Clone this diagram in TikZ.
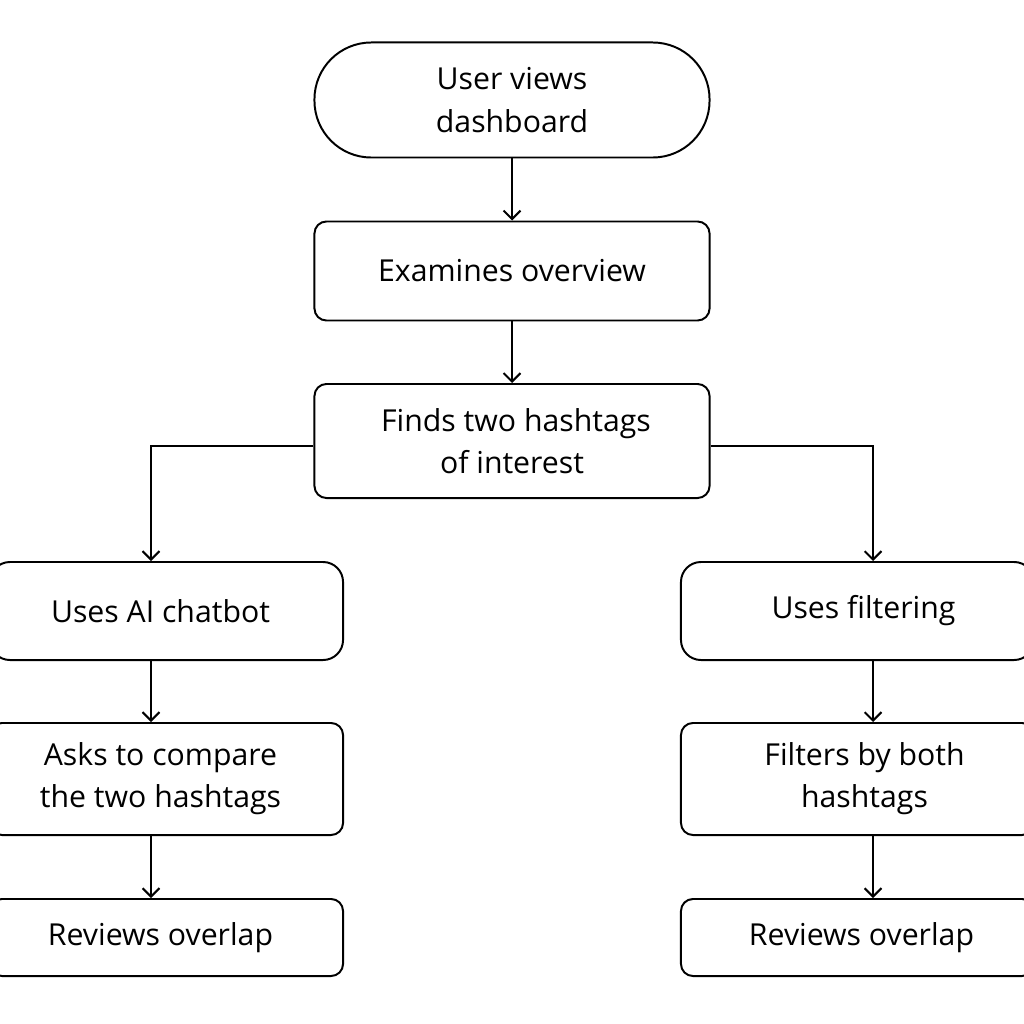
\documentclass[tikz,border=0pt]{standalone}
\usepackage{fontspec}
\setmainfont{Open Sans}
\usetikzlibrary{arrows.meta}
\begin{document}
\begin{tikzpicture}[x=0.025cm,y=-0.025cm,
 box/.style={draw,line width=1.4pt,align=center,font=\fontsize{21.5}{30}\selectfont,inner sep=0pt},
 arr/.style={line width=1.4pt,-{Straight Barb[length=6pt,width=12pt]}}]
\useasboundingbox (0,0) rectangle (1024,1024);
\node[box,rounded corners=1.42cm,minimum width=9.875cm,minimum height=2.875cm] (a) at (512,100) {User views\\dashboard};
\node[box,rounded corners=0.3cm,minimum width=9.875cm,minimum height=2.475cm] (b) at (512,271) {Examines overview};
\node[box,rounded corners=0.3cm,minimum width=9.875cm,minimum height=2.85cm] (c) at (512,441) {\hspace*{0.2cm}Finds two hashtags\\of interest};
\node[box,rounded corners=0.5cm,minimum width=8.825cm,minimum height=2.45cm] (l1) at (166.5,611) {\hspace*{-0.3cm}Uses AI chatbot};
\node[box,rounded corners=0.3cm,minimum width=8.825cm,minimum height=2.8cm] (l2) at (166.5,779) {\hspace*{-0.3cm}Asks to compare\\\hspace*{-0.3cm}the two hashtags};
\node[box,rounded corners=0.3cm,minimum width=8.825cm,minimum height=1.925cm] (l3) at (166.5,937.5) {\hspace*{-0.3cm}Reviews overlap};
\node[box,rounded corners=0.5cm,minimum width=8.825cm,minimum height=2.45cm] (r1) at (857.5,611) {\hspace*{0.3cm}Uses filtering};
\node[box,rounded corners=0.3cm,minimum width=8.825cm,minimum height=2.8cm] (r2) at (857.5,779) {\hspace*{0.35cm}Filters by both\\\hspace*{0.35cm}hashtags};
\node[box,rounded corners=0.3cm,minimum width=8.825cm,minimum height=1.925cm] (r3) at (857.5,937.5) {\hspace*{0.2cm}Reviews overlap};
\draw[arr] (a) -- (b);
\draw[arr] (b) -- (c);
\draw[arr] (c.west |- 0,446) -| (151,0 |- l1.north);
\draw[arr] (c.east |- 0,446) -| (873,0 |- r1.north);
\draw[arr] (151,0 |- l1.south) -- (151,0 |- l2.north);
\draw[arr] (151,0 |- l2.south) -- (151,0 |- l3.north);
\draw[arr] (873,0 |- r1.south) -- (873,0 |- r2.north);
\draw[arr] (873,0 |- r2.south) -- (873,0 |- r3.north);
\end{tikzpicture}
\end{document}
